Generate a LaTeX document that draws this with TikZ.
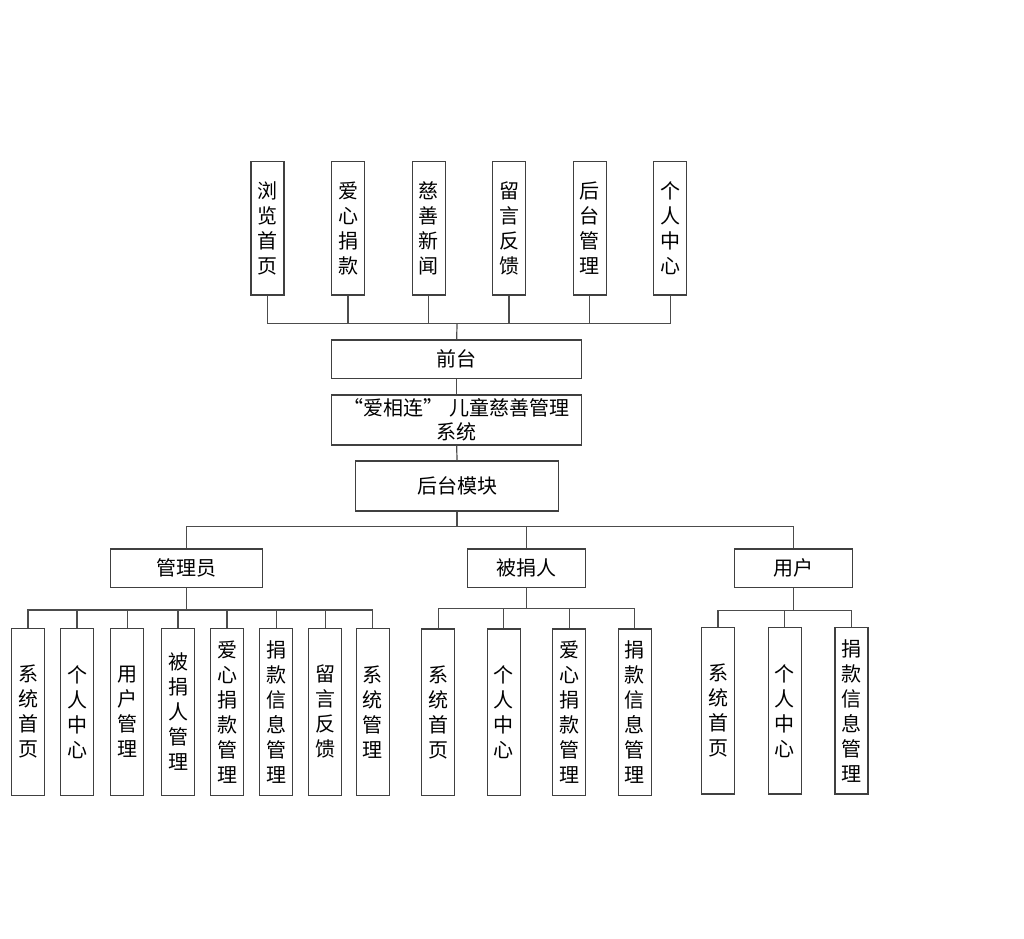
\documentclass[tikz,border=0pt]{standalone}
\usepackage{fontspec}
\setmainfont{Noto Sans CJK SC}
\begin{document}
\begin{tikzpicture}[x=1pt,y=-1pt,
  box/.style={draw=black!75, line width=1.2pt, inner sep=0pt, align=center, font=\fontsize{20}{25}\selectfont},
  vbox/.style={box, minimum width=33pt},
  hbox/.style={box, minimum height=38.3pt},
  ln/.style={draw=black!70, line width=1.2pt}]
\useasboundingbox (0,0) rectangle (1024,938);

% top row
\foreach \n/\x/\t in {t1/267.5/浏\\览\\首\\页, t2/348/爱\\心\\捐\\款, t3/428.7/慈\\善\\新\\闻, t4/509/留\\言\\反\\馈, t5/589.7/后\\台\\管\\理, t6/670.3/个\\人\\中\\心}
  \node[vbox, minimum height=133.3pt] (\n) at (\x,228.3) {\t};

\node[hbox, minimum width=250pt] (qt) at (456.7,359.2) {前台};
\node[box, minimum width=250pt, minimum height=50pt] (sys) at (456.7,420) {“爱相连”\hspace{6pt}儿童慈善管理\\[-1pt]系统};
\node[box, minimum width=202.6pt, minimum height=50pt] (hm) at (457,486) {后台模块};

\node[hbox, minimum width=151.6pt] (gly) at (186.5,568.2) {管理员};
\node[hbox, minimum width=117.6pt] (bjr) at (526.5,568.2) {被捐人};
\node[hbox, minimum width=118pt] (yh) at (793.3,568.2) {用户};

\foreach \n/\x/\t in {a1/28/系\\统\\首\\页, a2/77/个\\人\\中\\心, a3/127.3/用\\户\\管\\理, a4/178/被\\捐\\人\\管\\理, a5/227/爱\\心\\捐\\款\\管\\理, a6/276.3/捐\\款\\信\\息\\管\\理, a7/325.3/留\\言\\反\\馈, a8/372.8/系\\统\\管\\理}
  \node[vbox, minimum height=167pt] (\n) at (\x,711.8) {\t};

\foreach \n/\x/\t in {b1/438.3/系\\统\\首\\页, b2/503.8/个\\人\\中\\心, b3/569.2/爱\\心\\捐\\款\\管\\理, b4/634.8/捐\\款\\信\\息\\管\\理}
  \node[vbox, minimum height=166.3pt] (\n) at (\x,712.2) {\t};

\foreach \n/\x/\t in {c1/718/系\\统\\首\\页, c2/784.8/个\\人\\中\\心, c3/851.5/捐\\款\\信\\息\\管\\理}
  \node[vbox, minimum height=166.7pt] (\n) at (\x,710.7) {\t};

% junctions
\coordinate (busT) at (457,323.3);
\coordinate (busB) at (457,526.5);
\coordinate (ga) at (186.5,610);
\coordinate (gb) at (526.5,608.3);
\coordinate (gc) at (793.3,610.7);

\foreach \n in {t1,t2,t3,t4,t5,t6} \draw[ln] (\n.south) |- (busT);
\draw[ln] (busT) -- (qt.north);
\draw[ln] (qt.south) -- (sys.north);
\draw[ln] (sys.south) -- (hm.north);
\draw[ln] (hm.south) -- (busB);
\foreach \n in {gly,bjr,yh} \draw[ln] (busB) -| (\n.north);

\draw[ln] (gly.south) -- (ga);
\foreach \n in {a1,a2,a3,a4,a5,a6,a7,a8} \draw[ln] (ga) -| (\n.north);
\draw[ln] (bjr.south) -- (gb);
\foreach \n in {b1,b2,b3,b4} \draw[ln] (gb) -| (\n.north);
\draw[ln] (yh.south) -- (gc);
\foreach \n in {c1,c2,c3} \draw[ln] (gc) -| (\n.north);
\end{tikzpicture}
\end{document}
